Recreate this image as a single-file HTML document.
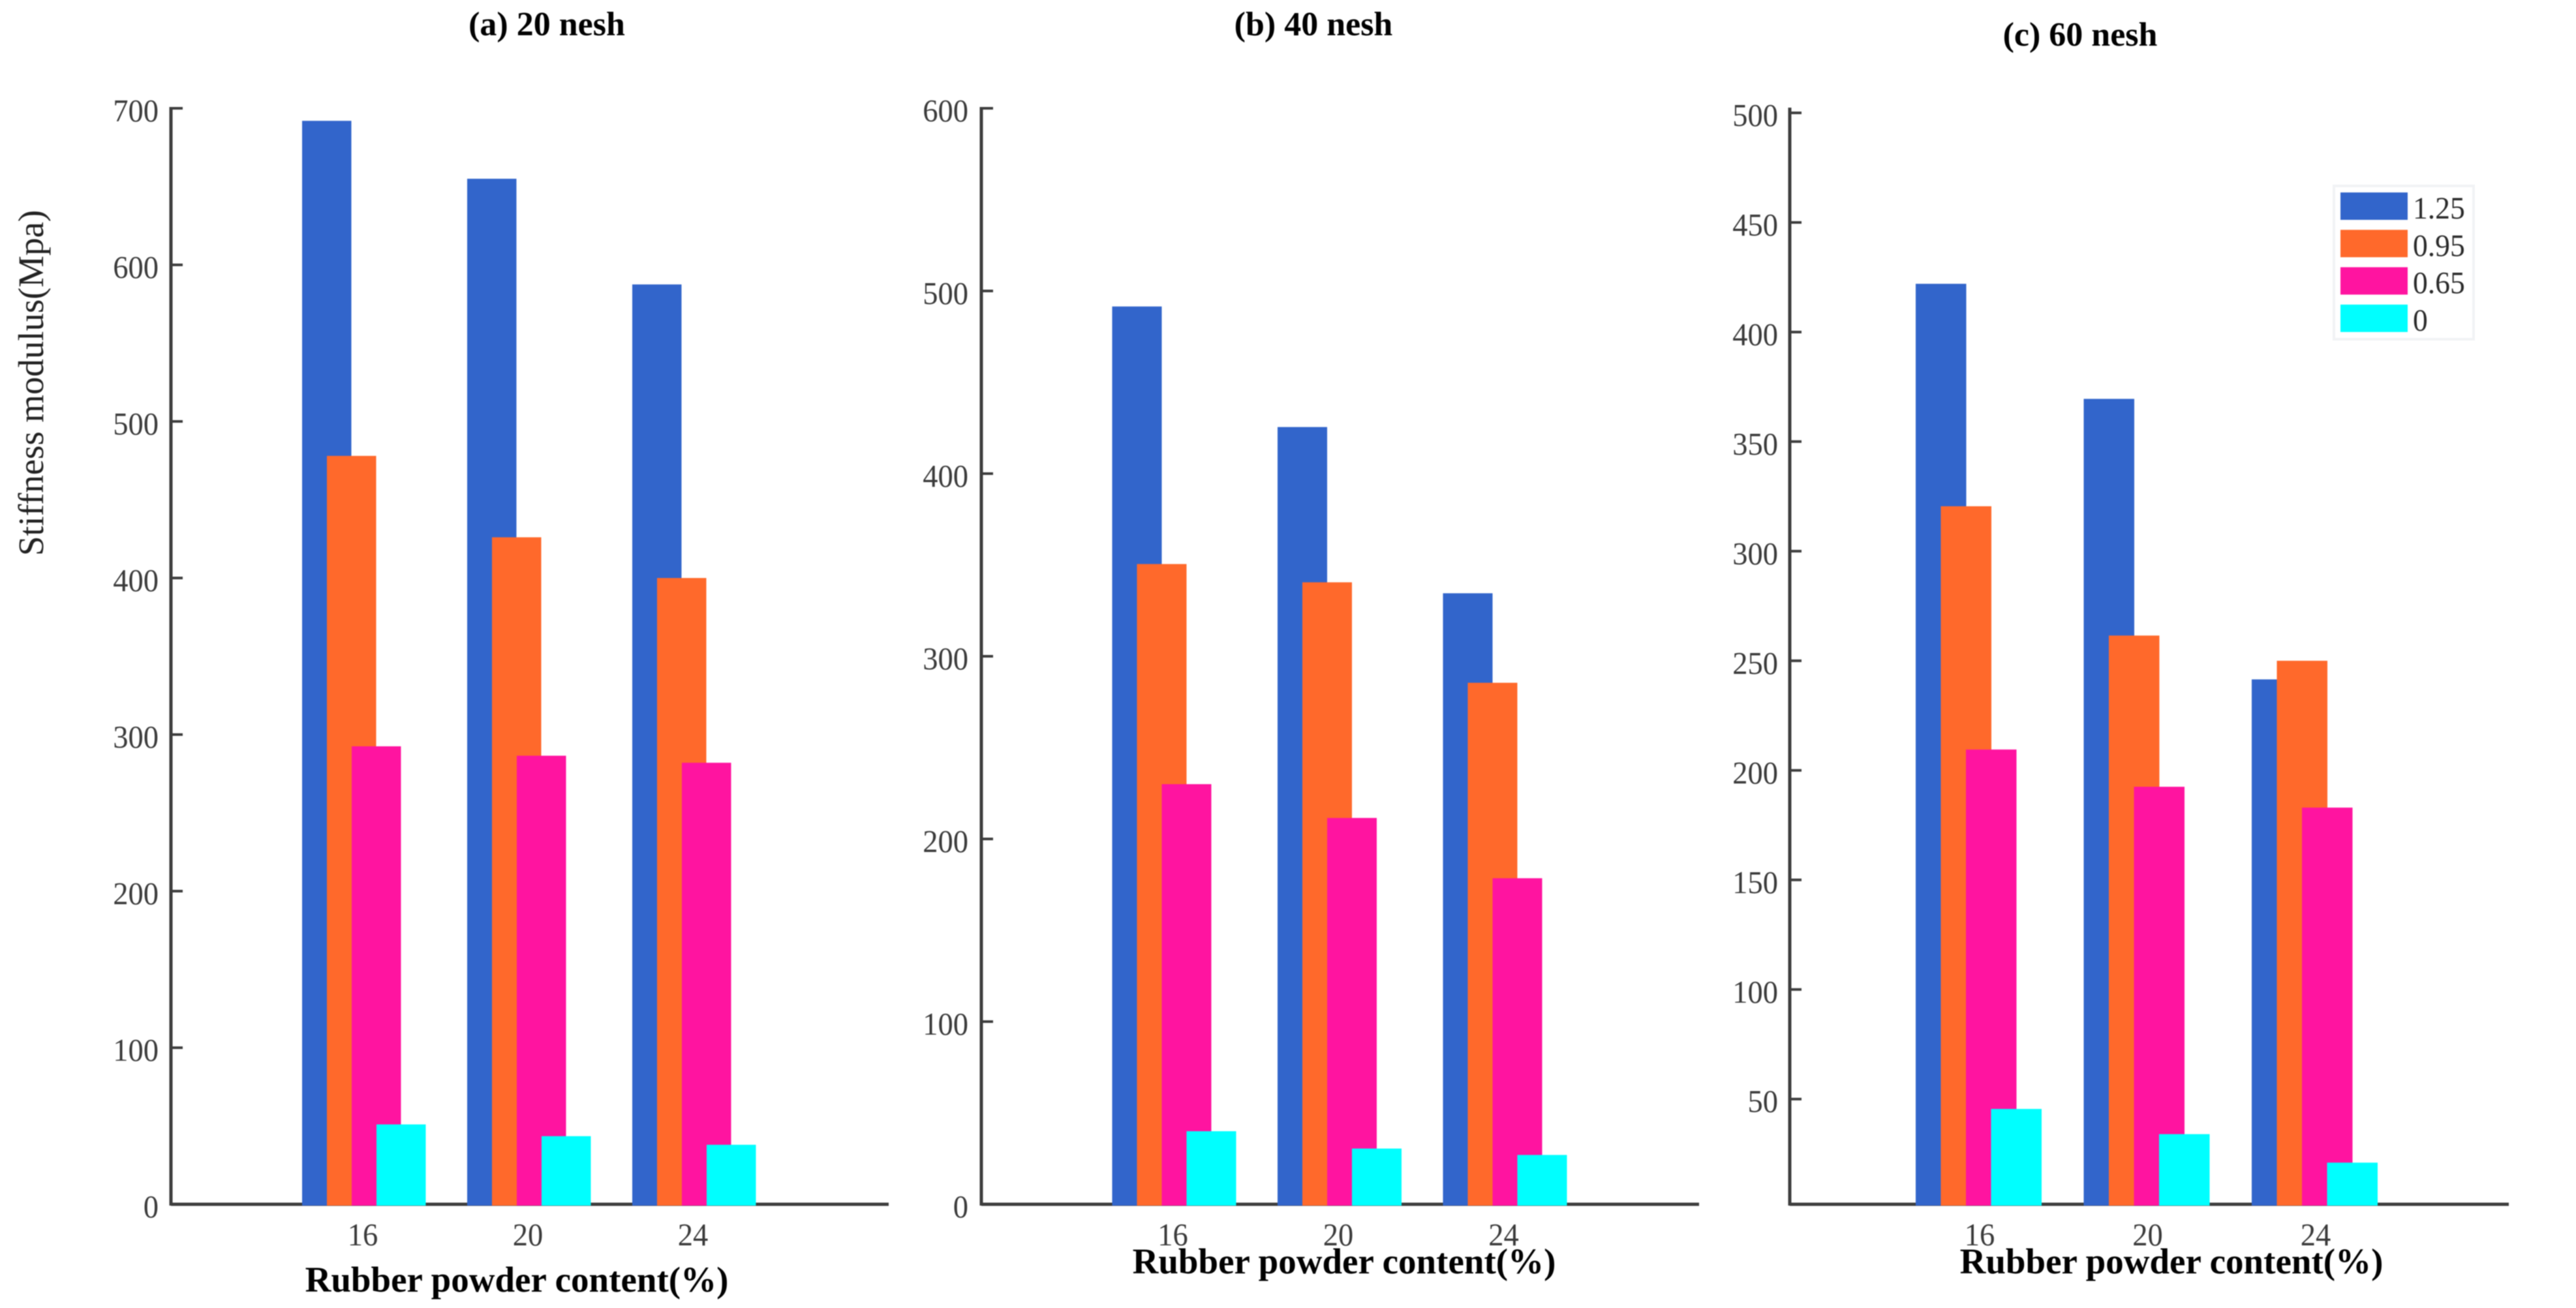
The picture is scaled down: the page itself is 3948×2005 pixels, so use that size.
<!DOCTYPE html>
<html lang="en">
<head>
<meta charset="utf-8">
<title>Stiffness modulus by rubber powder content</title>
<style>
  html, body { margin: 0; padding: 0; background: #fff; }
  svg { display: block; filter: blur(0.7px); }
  text { font-family: "Liberation Serif", serif; }
  .tick { font-size: 49px; fill: #3a3a3a; }
  .title { font-size: 52px; font-weight: bold; fill: #000; text-anchor: middle; }
  .xlabel { font-size: 55px; font-weight: bold; fill: #000; text-anchor: middle; }
</style>
</head>
<body>
<svg id="figure" xmlns="http://www.w3.org/2000/svg" width="3948" height="2005" viewBox="0 0 3948 2005">
  <rect x="0" y="0" width="3948" height="2005" fill="#ffffff"/>
  <text class="title" x="838" y="54">(a) 20 nesh</text>
  <text class="title" x="2013" y="54">(b) 40 nesh</text>
  <text class="title" x="3188" y="70">(c) 60 nesh</text>
  <text transform="translate(66 587) rotate(-90)" text-anchor="middle" font-size="54.8" fill="#222">Stiffness modulus(Mpa)</text>
  <text class="xlabel" x="792" y="1980">Rubber powder content(%)</text>
  <text class="xlabel" x="2060" y="1952">Rubber powder content(%)</text>
  <text class="xlabel" x="3328" y="1952">Rubber powder content(%)</text>
  <g id="panel-a"></g>
  <g id="panel-b"></g>
  <g id="panel-c"></g>
  <g id="legend">
    <rect x="3577" y="285" width="214" height="235" fill="#ffffff" stroke="#f1f3f5" stroke-width="4"/>
  </g>
</svg>
<script>
const categories = ['16', '20', '24'];
const seriesNames = ['1.25', '0.95', '0.65', '0'];
const seriesColors = ['#3265cb', '#ff692b', '#ff14a0', '#00ffff'];

const panelASeries125 = [692, 655, 587.5];
const panelASeries095 = [478, 426, 400];
const panelASeries065 = [292.5, 286.5, 282];
const panelASeries0 = [51, 43.5, 38];
const panelATicks = [0, 100, 200, 300, 400, 500, 600, 700];

const panelBSeries125 = [491.5, 425.5, 334.5];
const panelBSeries095 = [350.5, 340.5, 285.5];
const panelBSeries065 = [230, 211.5, 178.5];
const panelBSeries0 = [40, 30.5, 27];
const panelBTicks = [0, 100, 200, 300, 400, 500, 600];

const panelCSeries125 = [422, 369.5, 241.5];
const panelCSeries095 = [320.5, 261.5, 250];
const panelCSeries065 = [209.5, 192.5, 183];
const panelCSeries0 = [45.5, 34, 21];
const panelCTicks = [50, 100, 150, 200, 250, 300, 350, 400, 450, 500];

const SVG_NS = 'http://www.w3.org/2000/svg';
const BASE_Y = 1846;
const LABEL_Y = 1909;
const TEXT_NARROW = 0.95;

function drawPanel(cfg) {
  const root = document.getElementById(cfg.id);
  const yScale = function (v) {
    return BASE_Y - (v - cfg.yMin) / (cfg.yMax - cfg.yMin) * (BASE_Y - cfg.yTop);
  };
  const xScale = function (catIndex, seriesIndex) {
    return cfg.barStart + catIndex * cfg.groupStep + seriesIndex * cfg.barOffset;
  };

  const yAxis = document.createElementNS(SVG_NS, 'line');
  
  
  yAxis.setAttribute('x1', cfg.axisX);
  yAxis.setAttribute('x2', cfg.axisX);
  yAxis.setAttribute('y1', cfg.axisTop);
  yAxis.setAttribute('y2', BASE_Y + 2);
  yAxis.setAttribute('stroke', '#3d3d3d');
  yAxis.setAttribute('stroke-width', '5');
  root.appendChild(yAxis);

  const xAxis = document.createElementNS(SVG_NS, 'line');
  
  
  xAxis.setAttribute('x1', cfg.axisX);
  xAxis.setAttribute('x2', cfg.axisEnd);
  xAxis.setAttribute('y1', BASE_Y);
  xAxis.setAttribute('y2', BASE_Y);
  xAxis.setAttribute('stroke', '#3d3d3d');
  xAxis.setAttribute('stroke-width', '5');
  root.appendChild(xAxis);

  cfg.ticks.forEach(function (t) {
    const y = yScale(t);
    if (t !== cfg.yMin) {
      const mark = document.createElementNS(SVG_NS, 'line');
      
      
      mark.setAttribute('x1', cfg.axisX);
      mark.setAttribute('x2', cfg.axisX + 18);
      mark.setAttribute('y1', y);
      mark.setAttribute('y2', y);
      mark.setAttribute('stroke', '#3d3d3d');
      mark.setAttribute('stroke-width', '4');
      root.appendChild(mark);
    }
    const label = document.createElementNS(SVG_NS, 'text');
    
    
    label.setAttribute('class', 'tick');
    label.setAttribute('transform', 'translate(' + cfg.labelRight + ' ' + (y + 20) + ') scale(' + TEXT_NARROW + ' 1)');
    label.setAttribute('text-anchor', 'end');
    label.textContent = String(t);
    root.appendChild(label);
  });

  cfg.series.forEach(function (values, s) {
    values.forEach(function (v, c) {
      const top = yScale(v);
      const bar = document.createElementNS(SVG_NS, 'rect');
      
      
      bar.setAttribute('x', xScale(c, s));
      bar.setAttribute('y', top);
      bar.setAttribute('width', cfg.barWidth);
      bar.setAttribute('height', BASE_Y + 2 - top);
      bar.setAttribute('fill', seriesColors[s]);
      root.appendChild(bar);
    });
  });

  categories.forEach(function (cat, c) {
    const label = document.createElementNS(SVG_NS, 'text');
    
    
    label.setAttribute('class', 'tick');
    label.setAttribute('transform', 'translate(' + (xScale(c, 0) + cfg.labelShift) + ' ' + LABEL_Y + ') scale(' + TEXT_NARROW + ' 1)');
    label.setAttribute('text-anchor', 'middle');
    label.textContent = cat;
    root.appendChild(label);
  });
}

drawPanel({
  id: 'panel-a', key: 'panel-a',
  series: [panelASeries125, panelASeries095, panelASeries065, panelASeries0],
  ticks: panelATicks, yMin: 0, yMax: 700, yTop: 166,
  axisX: 262, axisEnd: 1362, axisTop: 164, labelRight: 243,
  barStart: 463, barWidth: 75.5, barOffset: 38, groupStep: 253, labelShift: 93
});
drawPanel({
  id: 'panel-b', key: 'panel-b',
  series: [panelBSeries125, panelBSeries095, panelBSeries065, panelBSeries0],
  ticks: panelBTicks, yMin: 0, yMax: 600, yTop: 166,
  axisX: 1504, axisEnd: 2604, axisTop: 164, labelRight: 1484,
  barStart: 1704.5, barWidth: 76, barOffset: 38, groupStep: 253.5, labelShift: 93
});
drawPanel({
  id: 'panel-c', key: 'panel-c',
  series: [panelCSeries125, panelCSeries095, panelCSeries065, panelCSeries0],
  ticks: panelCTicks, yMin: 2, yMax: 500, yTop: 173,
  axisX: 2743, axisEnd: 3845, axisTop: 165, labelRight: 2725,
  barStart: 2936, barWidth: 77.5, barOffset: 38.5, groupStep: 257.5, labelShift: 98
});

const legendRoot = document.getElementById('legend');
seriesNames.forEach(function (name, s) {
  const swatch = document.createElementNS(SVG_NS, 'rect');
  
  
  swatch.setAttribute('x', 3587);
  swatch.setAttribute('y', 295 + s * 57.3);
  swatch.setAttribute('width', 103);
  swatch.setAttribute('height', 42);
  swatch.setAttribute('fill', seriesColors[s]);
  legendRoot.appendChild(swatch);

  const entry = document.createElementNS(SVG_NS, 'text');
  
  
  entry.setAttribute('transform', 'translate(3698 ' + (335 + s * 57.3) + ') scale(' + TEXT_NARROW + ' 1)');
  entry.setAttribute('font-size', '48');
  entry.setAttribute('fill', '#2a2a2a');
  entry.textContent = name;
  legendRoot.appendChild(entry);
});
</script>
</body>
</html>
